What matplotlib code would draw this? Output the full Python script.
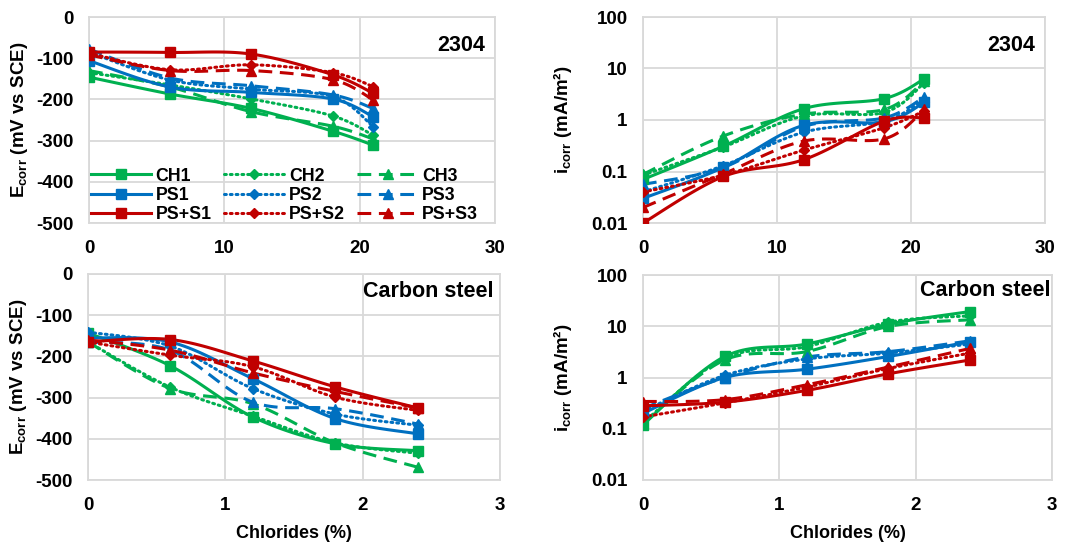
import numpy as np
import matplotlib
matplotlib.use("Agg")
import matplotlib.pyplot as plt
from matplotlib.lines import Line2D

plt.rcParams['font.family'] = ['Liberation Sans', 'DejaVu Sans']
plt.rcParams['font.weight'] = 'bold'
plt.rcParams['mathtext.fontset'] = 'custom'
plt.rcParams['mathtext.rm'] = 'Liberation Sans:bold'
plt.rcParams['mathtext.bf'] = 'Liberation Sans:bold'
plt.rcParams['mathtext.it'] = 'Liberation Sans:bold'

# ---------------- data ----------------
series_names = ['CH1', 'CH2', 'CH3', 'PS1', 'PS2', 'PS3', 'PS+S1', 'PS+S2', 'PS+S3']

x_2304 = [0, 6, 12, 18, 21]
x_cs = [0, 0.6, 1.2, 1.8, 2.4]

ecorr_2304 = {
    'CH1':   [-146, -187, -222, -277, -311],
    'CH2':   [-135, -165, -199, -240, -287],
    'CH3':   [-130, -170, -230, -265, -296],
    'PS1':   [-106, -170, -183, -199, -242],
    'PS2':   [-85, -153, -175, -193, -266],
    'PS3':   [-78, -148, -167, -189, -222],
    'PS+S1': [-85, -86, -90, -140, -185],
    'PS+S2': [-88, -128, -116, -135, -169],
    'PS+S3': [-92, -130, -130, -152, -201],
}

icorr_2304 = {
    'CH1':   [0.070, 0.31, 1.66, 2.6, 6.3],
    'CH2':   [0.085, 0.30, 1.2, 1.4, 5.3],
    'CH3':   [0.088, 0.49, 1.3, 1.6, 5.7],
    'PS1':   [0.030, 0.12, 0.79, 0.92, 2.2],
    'PS2':   [0.040, 0.13, 0.58, 0.95, 2.5],
    'PS3':   [0.056, 0.12, 0.75, 1.1, 2.8],
    'PS+S1': [0.010, 0.080, 0.17, 0.95, 1.1],
    'PS+S2': [0.040, 0.085, 0.26, 0.71, 1.5],
    'PS+S3': [0.020, 0.090, 0.39, 0.43, 1.6],
}

ecorr_cs = {
    'CH1':   [-143, -223, -347, -412, -429],
    'CH2':   [-165, -275, -345, -410, -435],
    'CH3':   [-165, -278, -315, -410, -469],
    'PS1':   [-155, -165, -254, -351, -388],
    'PS2':   [-141, -175, -278, -340, -367],
    'PS3':   [-165, -185, -311, -327, -364],
    'PS+S1': [-165, -159, -211, -274, -325],
    'PS+S2': [-165, -197, -225, -299, -331],
    'PS+S3': [-160, -185, -240, -285, -325],
}

icorr_cs = {
    'CH1':   [0.12, 2.57, 4.5, 11.0, 19.4],
    'CH2':   [0.13, 2.4, 4.0, 12.0, 16.0],
    'CH3':   [0.13, 2.2, 3.2, 9.9, 13.4],
    'PS1':   [0.20, 1.0, 1.45, 2.57, 5.0],
    'PS2':   [0.22, 1.1, 2.3, 3.0, 4.5],
    'PS3':   [0.25, 1.0, 2.5, 3.2, 5.2],
    'PS+S1': [0.28, 0.33, 0.56, 1.18, 2.2],
    'PS+S2': [0.17, 0.32, 0.65, 1.5, 3.0],
    'PS+S3': [0.34, 0.37, 0.72, 1.6, 3.7],
}

ecorr_ticks = [0, -100, -200, -300, -400, -500]
icorr_ticks = [0.01, 0.1, 1, 10, 100]
icorr_tick_labels = ['0.01', '0.1', '1', '10', '100']
x_ticks_2304 = [0, 10, 20, 30]
x_ticks_cs = [0, 1, 2, 3]

# ---------------- styles ----------------
GREEN = '#00B050'
BLUE = '#0070C0'
RED = '#C00000'
colors = {'CH': GREEN, 'PS': BLUE, 'PS+S': RED}
LW = 2.2
styles = {
    '1': dict(ls='-', marker='s', ms=6.5),
    '2': dict(ls=(0, (0.6, 1.3)), marker='D', ms=5.0),
    '3': dict(ls=(0, (4.5, 2.5)), marker='^', ms=6.5),
}
FS = 13.5
TITLE_FS = 15.5
LEG_FS = 12.8


def style_of(name):
    base, num = name[:-1], name[-1]
    st = dict(styles[num])
    st['color'] = colors[base]
    return st


GRID = '#D9D9D9'

fig = plt.figure(figsize=(10.72, 5.45), dpi=100)
W, H = 1072, 545


def add_axes(l, r, t, b):
    return fig.add_axes([l / W, 1 - b / H, (r - l) / W, (b - t) / H])


ax_tl = add_axes(89, 495, 17, 223)
ax_tr = add_axes(643, 1045, 17, 223)
ax_bl = add_axes(88, 500, 274, 480)
ax_br = add_axes(643, 1052, 275, 480)


def setup(ax, xticks, logy, ylab_x):
    ax.set_xlim(xticks[0], xticks[-1])
    ax.set_xticks(xticks)
    ax.set_xticklabels([str(t) for t in xticks])
    if logy:
        ax.set_yscale('log')
        ax.set_ylim(0.01, 100)
        ax.set_yticks(icorr_ticks)
        ax.set_yticklabels(icorr_tick_labels)
        ax.minorticks_off()
        ax.set_ylabel('i$_{\\mathrm{corr}}$ (mA/m²)', fontsize=FS, fontweight='bold')
    else:
        ax.set_ylim(-500, 0)
        ax.set_yticks(ecorr_ticks)
        ax.set_yticklabels([str(t) for t in ecorr_ticks])
        ax.set_ylabel('E$_{\\mathrm{corr}}$ (mV vs SCE)', fontsize=FS, fontweight='bold')
    ax.yaxis.label.set_va('center')
    ax.yaxis.set_label_coords(ylab_x, 0.5)
    ax.grid(True, color=GRID, lw=1.3)
    ax.set_axisbelow(True)
    for s in ax.spines.values():
        s.set_color(GRID)
        s.set_linewidth(1.3)
    ax.tick_params(axis='y', length=0, labelsize=FS, pad=11)
    ax.tick_params(axis='x', length=0, labelsize=FS, pad=12)
    for lab in ax.get_xticklabels() + ax.get_yticklabels():
        lab.set_fontweight('bold')


def smooth_curve(ax, xs, ys, n=24):
    P = ax.transData.transform(np.column_stack([xs, ys]))
    out = [P[0]]
    m = len(P)
    for i in range(m - 1):
        p0 = P[i - 1] if i > 0 else P[i]
        p3 = P[i + 2] if i + 2 < m else P[i + 1]
        c1 = P[i] + (P[i + 1] - p0) / 6.0
        c2 = P[i + 1] - (p3 - P[i]) / 6.0
        t = np.linspace(0, 1, n)[1:, None]
        seg = ((1 - t) ** 3) * P[i] + 3 * ((1 - t) ** 2) * t * c1 + 3 * (1 - t) * t ** 2 * c2 + t ** 3 * P[i + 1]
        out.extend(seg)
    out = np.array(out)
    D = ax.transData.inverted().transform(out)
    return D[:, 0], D[:, 1]


def draw(ax, xs, data):
    for name in series_names:
        st = style_of(name)
        sx, sy = smooth_curve(ax, xs, data[name])
        ax.plot(sx, sy, color=st['color'], lw=LW, ls=st['ls'],
                dash_capstyle='round' if name.endswith('2') else 'butt', zorder=3)
        ax.plot(xs, data[name], ls='none', marker=st['marker'], ms=st['ms'],
                color=st['color'], zorder=4)


setup(ax_tl, x_ticks_2304, False, (20 - 89) / 406)
setup(ax_tr, x_ticks_2304, True, (562 - 643) / 402)
setup(ax_bl, x_ticks_cs, False, (19 - 88) / 412)
setup(ax_br, x_ticks_cs, True, (562 - 643) / 409)

draw(ax_tl, x_2304, ecorr_2304)
draw(ax_tr, x_2304, icorr_2304)
draw(ax_bl, x_cs, ecorr_cs)
draw(ax_br, x_cs, icorr_cs)

for ax in (ax_bl, ax_br):
    ax.set_xlabel('Chlorides (%)', fontsize=13, fontweight='bold')
    ax.xaxis.label.set_va('center')
    ax.xaxis.set_label_coords(0.5, -(533 - 480) / 205)

ax_tl.text(0.975, 0.915, '2304', transform=ax_tl.transAxes, ha='right', va='top',
           fontsize=TITLE_FS, fontweight='bold')
ax_tr.text(0.975, 0.915, '2304', transform=ax_tr.transAxes, ha='right', va='top',
           fontsize=TITLE_FS, fontweight='bold')
ax_bl.text(0.985, 0.965, 'Carbon steel', transform=ax_bl.transAxes, ha='right', va='top',
           fontsize=TITLE_FS, fontweight='bold')
ax_br.text(0.997, 0.975, 'Carbon steel', transform=ax_br.transAxes, ha='right', va='top',
           fontsize=TITLE_FS, fontweight='bold')

# legend (row-wise order via column-major filling)
order = ['CH1', 'PS1', 'PS+S1', 'CH2', 'PS2', 'PS+S2', 'CH3', 'PS3', 'PS+S3']
handles = []
for name in order:
    st = style_of(name)
    handles.append(Line2D([], [], color=st['color'], lw=LW, ls=st['ls'], marker=st['marker'],
                          ms=st['ms'], dash_capstyle='round' if name.endswith('2') else 'butt'))
leg = ax_tl.legend(handles, order, ncol=3, loc='lower left', bbox_to_anchor=(0.0, -0.01),
                   frameon=False, handlelength=3.4, handletextpad=0.25,
                   columnspacing=0.7, labelspacing=0.13, borderpad=0.1, borderaxespad=0.0,
                   prop={'weight': 'bold', 'size': LEG_FS})

fig.savefig('out.png', dpi=100)
